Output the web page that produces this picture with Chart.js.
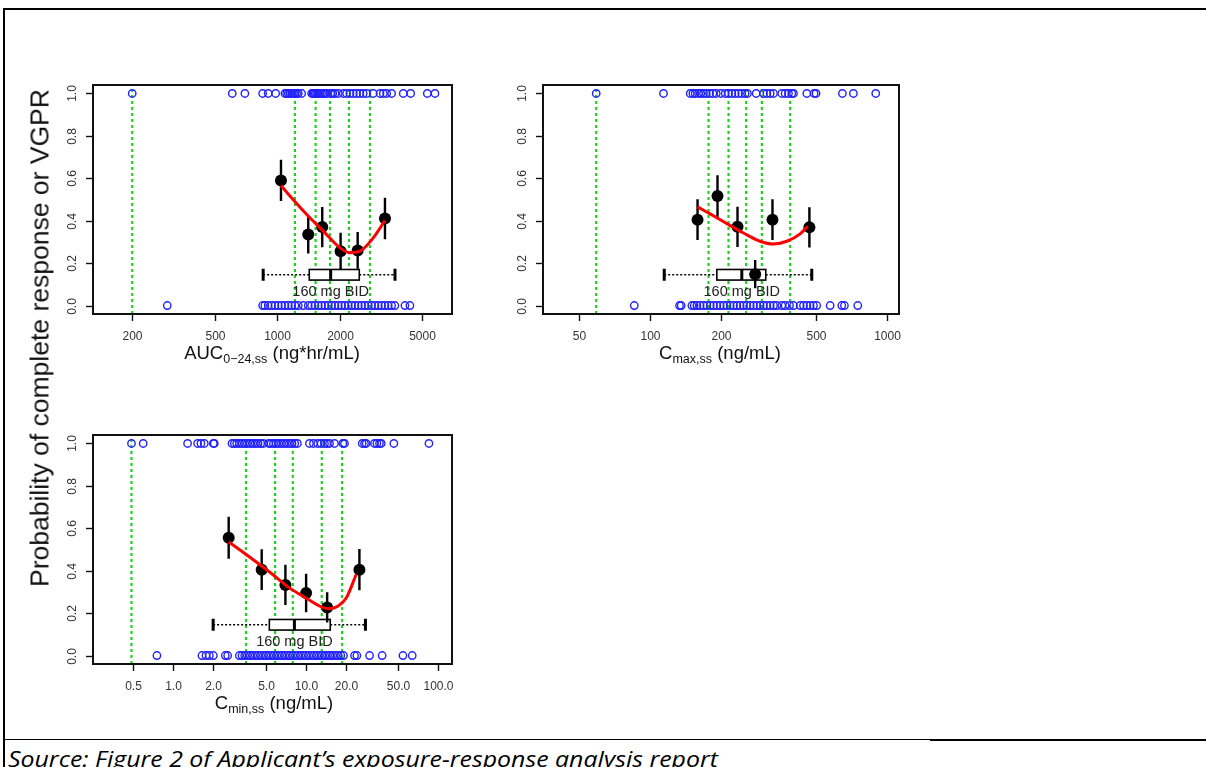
<!DOCTYPE html>
<html><head><meta charset="utf-8">
<script src="https://cdn.jsdelivr.net/npm/chart.js@4.4.1/dist/chart.umd.min.js"></script>
<style>
html,body{margin:0;padding:0;background:#fff;}
body{width:1206px;height:767px;position:relative;overflow:hidden;font-family:"Liberation Sans",Arial,sans-serif;}
canvas{position:absolute;}
.ttl{position:absolute;transform:translate(-50%,-50%);white-space:nowrap;font-size:18.5px;color:#111;}
.ttl sub{font-size:12.5px;vertical-align:-4px;line-height:0;}
#ylab{position:absolute;left:40px;top:338px;transform:translate(-50%,-50%) rotate(-90deg);white-space:nowrap;font-size:26.5px;color:#111;}
#src{position:absolute;left:8px;top:747px;line-height:22px;font-family:"Open Sans",sans-serif;font-style:italic;font-size:22px;color:#000;white-space:nowrap;transform-origin:0 0;}
.ln{position:absolute;background:#000;}
</style></head>
<body>
<div class="ln" style="left:3px;top:8px;width:1203px;height:2px"></div>
<div class="ln" style="left:3px;top:8px;width:2px;height:759px"></div>
<div class="ln" style="left:3px;top:739px;width:928px;height:1px"></div>
<div class="ln" style="left:930px;top:739px;width:276px;height:2px"></div>

<canvas id="c1" width="430" height="300" style="left:45px;top:75px"></canvas>
<canvas id="c2" width="430" height="300" style="left:495px;top:75px"></canvas>
<canvas id="c3" width="430" height="300" style="left:45px;top:425px"></canvas>

<div id="ylab">Probability of complete response or VGPR</div>
<div class="ttl" style="left:272px;top:353px">AUC<sub>0−24,ss</sub> (ng*hr/mL)</div>
<div class="ttl" style="left:720px;top:353px">C<sub>max,ss</sub> (ng/mL)</div>
<div class="ttl" style="left:274px;top:703px">C<sub>min,ss</sub> (ng/mL)</div>
<div id="src">Source: Figure 2 of Applicant’s exposure-response analysis report</div>

<script>
// ---------------- DATA ----------------
const yTicks = [0, 0.2, 0.4, 0.6, 0.8, 1.0];
const yTickLabels = ["0.0", "0.2", "0.4", "0.6", "0.8", "1.0"];
const boxLabel = "160 mg BID";

// Panel 1: AUC0-24,ss
const aucTicks = [200, 500, 1000, 2000, 5000];
const aucTickLabels = ["200", "500", "1000", "2000", "5000"];
const aucCuts = [200, 1216, 1530, 1795, 2214, 2797];
const aucMeanX = [1042, 1410, 1647, 2019, 2440, 3303];
const aucMeanY = [0.59, 0.335, 0.37, 0.256, 0.26, 0.41];
const aucErr = [0.097, 0.09, 0.095, 0.087, 0.087, 0.098];
const aucCurveX = [1042, 1151, 1386, 1666, 2005, 2239, 2500, 2900, 3303];
const aucCurveY = [0.566, 0.516, 0.429, 0.351, 0.272, 0.249, 0.256, 0.319, 0.401];
const aucBox = [855, 1426, 1808, 2484, 3692];
const aucResp1 = [200, 607, 698, 850, 904, 982, 1089, 1110, 1130, 1150, 1173, 1195, 1216, 1240, 1262, 1310, 1465, 1485, 1502, 1525, 1548, 1575, 1606, 1635, 1666, 1700, 1730, 1808, 1850, 1897, 1968, 2080, 2158, 2239, 2323, 2411, 2500, 2595, 2695, 2900, 3126, 3243, 3365, 3556, 4046, 4394, 5284, 5752];
const aucResp0 = [295, 850, 871, 904, 938, 974, 1011, 1049, 1089, 1130, 1172, 1216, 1262, 1334, 1410, 1463, 1518, 1575, 1635, 1697, 1761, 1827, 1896, 1967, 2041, 2118, 2198, 2281, 2367, 2456, 2548, 2644, 2744, 2847, 2954, 3066, 3181, 3301, 3425, 3554, 3688, 4122, 4357];

// Panel 2: Cmax,ss
const cmaxTicks = [50, 100, 200, 500, 1000];
const cmaxTickLabels = ["50", "100", "200", "500", "1000"];
const cmaxCuts = [59.1, 176.4, 214.3, 254.5, 296.5, 390.5];
const cmaxMeanX = [158.5, 192.5, 233.9, 277.8, 328.8, 471];
const cmaxMeanY = [0.405, 0.516, 0.371, 0.148, 0.405, 0.369];
const cmaxErr = [0.096, 0.098, 0.095, 0.067, 0.096, 0.095];
const cmaxCurveX = [158.5, 179.3, 210.9, 247.9, 291.6, 332, 378, 430.4, 463.6];
const cmaxCurveY = [0.465, 0.432, 0.386, 0.342, 0.303, 0.29, 0.303, 0.338, 0.374];
const cmaxBox = [114.6, 191.3, 243.9, 308, 482];
const cmaxResp1 = [59.1, 113.8, 147.6, 151.5, 154.9, 160, 163.7, 168, 172.5, 178.1, 184, 190.1, 198.9, 207.5, 214.3, 221.3, 228.6, 236.2, 243.9, 251.9, 257.7, 280.5, 301.2, 311.2, 321.5, 332.1, 359.9, 371.8, 384.2, 396.8, 403.4, 459.3, 493.2, 502.6, 649.5, 722.9, 898.6];
const cmaxResp0 = [85.6, 133, 135.2, 150, 153.4, 157.5, 162.6, 168, 173.5, 179.3, 185.2, 191.3, 197.6, 204.2, 210.9, 217.8, 225, 232.4, 240, 247.9, 256, 264.6, 273.3, 282.3, 291.6, 301.2, 311.2, 321.5, 332.1, 343, 359.9, 371.8, 388, 403.4, 430.4, 444.6, 459.3, 474.4, 490, 505.8, 576.4, 645.5, 662.3, 754.3];

// Panel 3: Cmin,ss
const cminTicks = [0.5, 1, 2, 5, 10, 20, 50, 100];
const cminTickLabels = ["0.5", "1.0", "2.0", "5.0", "10.0", "20.0", "50.0", "100.0"];
const cminCuts = [0.484, 3.54, 5.87, 7.98, 13.2, 18.8];
const cminMeanX = [2.62, 4.65, 7.02, 10.06, 14.5, 25.4];
const cminMeanY = [0.555, 0.405, 0.333, 0.295, 0.227, 0.405];
const cminErr = [0.099, 0.096, 0.095, 0.091, 0.071, 0.097];
const cminCurveX = [2.62, 3.15, 4.21, 5.63, 7.53, 10.06, 13.43, 15.1, 17.45, 20.2, 24.0];
const cminCurveY = [0.535, 0.50, 0.442, 0.382, 0.319, 0.271, 0.227, 0.221, 0.232, 0.271, 0.382];
const cminBox = [2.0, 5.31, 8.21, 15.3, 28.2];
const cminResp1 = [0.484, 0.593, 1.283, 1.527, 1.618, 1.715, 2.006, 2.04, 2.775, 2.89, 3.01, 3.153, 3.304, 3.46, 3.624, 3.80, 3.977, 4.165, 4.363, 4.57, 4.787, 5.253, 5.47, 5.70, 5.97, 6.25, 6.55, 6.86, 7.18, 7.53, 7.88, 8.26, 8.65, 10.66, 11.43, 12.32, 13.05, 13.84, 14.42, 15.1, 16.47, 19.04, 19.6, 26.66, 27.75, 28.57, 33.0, 34.4, 36.0, 37.1, 46.2, 85.0];
const cminResp0 = [0.753, 1.647, 1.766, 1.871, 2.006, 2.47, 2.574, 3.153, 3.304, 3.46, 3.624, 3.80, 3.977, 4.165, 4.363, 4.57, 4.787, 5.015, 5.253, 5.50, 5.765, 6.04, 6.32, 6.62, 6.94, 7.27, 7.61, 7.98, 8.35, 8.75, 9.17, 9.60, 10.06, 10.54, 11.04, 11.56, 12.11, 12.68, 13.29, 13.92, 14.58, 15.27, 16.0, 16.76, 17.55, 18.39, 19.26, 23.33, 24.3, 30.3, 37.7, 54.1, 63.6];

const boxY = 0.145;

// ---------------- DRAWING ----------------
const FONT = '"Liberation Sans", Arial, sans-serif';

function drawBox(chart, o) {
  const xs = chart.scales.x, ys = chart.scales.y, ctx = chart.ctx;
  const px = v => xs.getPixelForValue(v);
  const [mn, q1, md, q3, mx] = o.box;
  const yc = ys.getPixelForValue(o.boxY);
  const h = 5.3;
  ctx.save();
  ctx.strokeStyle = '#000';
  ctx.lineWidth = 1.6;
  ctx.setLineDash([2, 2]);
  ctx.beginPath();
  ctx.moveTo(px(mn), yc); ctx.lineTo(px(q1), yc);
  ctx.moveTo(px(q3), yc); ctx.lineTo(px(mx), yc);
  ctx.stroke();
  ctx.setLineDash([]);
  ctx.fillStyle = '#fff';
  ctx.fillRect(px(q1), yc - h, px(q3) - px(q1), 2 * h);
  ctx.lineWidth = 1.6;
  ctx.strokeRect(px(q1), yc - h, px(q3) - px(q1), 2 * h);
  ctx.lineWidth = 3;
  ctx.beginPath();
  ctx.moveTo(px(md), yc - h); ctx.lineTo(px(md), yc + h);
  ctx.moveTo(px(mn), yc - 6); ctx.lineTo(px(mn), yc + 6);
  ctx.moveTo(px(mx), yc - 6); ctx.lineTo(px(mx), yc + 6);
  ctx.stroke();
  ctx.font = '14.5px ' + FONT;
  ctx.fillStyle = '#222';
  ctx.textAlign = 'center';
  ctx.textBaseline = 'middle';
  ctx.fillText(o.label, px(md), yc + 17);
  ctx.restore();
}

const rPlot = {
  id: 'rPlot',
  afterDatasetDraw(chart, args, o) {
    if (args.index === 2) drawBox(chart, o);
  },
  afterDraw(chart, args, o) {
    const ctx = chart.ctx, xs = chart.scales.x, ys = chart.scales.y;
    const { left, right, top, bottom } = chart.chartArea;
    ctx.save();
    ctx.strokeStyle = '#111';
    ctx.lineWidth = 2;
    ctx.strokeRect(left, top, right - left, bottom - top);
    ctx.lineWidth = 1.4;
    ctx.fillStyle = '#333';
    ctx.font = '12px ' + FONT;
    ctx.textAlign = 'center';
    ctx.textBaseline = 'middle';
    o.xTicks.forEach((v, i) => {
      const p = Math.round(xs.getPixelForValue(v)) + 0.5;
      ctx.beginPath(); ctx.moveTo(p, bottom); ctx.lineTo(p, bottom + 7); ctx.stroke();
      ctx.fillText(o.xLabels[i], p, bottom + 23);
    });
    o.yTicks.forEach((v, i) => {
      const p = Math.round(ys.getPixelForValue(v)) + 0.5;
      ctx.beginPath(); ctx.moveTo(left - 7, p); ctx.lineTo(left, p); ctx.stroke();
      ctx.save();
      ctx.translate(left - 20, p);
      ctx.rotate(-Math.PI / 2);
      ctx.fillText(o.yLabels[i], 0, 0);
      ctx.restore();
    });
    ctx.restore();
  }
};

function vlines(xs) {
  const d = [];
  xs.forEach(v => { d.push({ x: v, y: -0.04 }, { x: v, y: 1.04 }, { x: v, y: null }); });
  return d;
}
function errbars(xs, ys, es) {
  const d = [];
  xs.forEach((v, i) => { d.push({ x: v, y: ys[i] - es[i] }, { x: v, y: ys[i] + es[i] }, { x: v, y: null }); });
  return d;
}
function pts(xs, ys) { return xs.map((v, i) => ({ x: v, y: Array.isArray(ys) ? ys[i] : ys })); }

function panel(id, p) {
  new Chart(document.getElementById(id), {
    type: 'scatter',
    data: {
      datasets: [
        { type: 'line', data: vlines(p.cuts), borderColor: '#1fd21f', borderWidth: 2.2, borderDash: [3, 3], pointRadius: 0, spanGaps: false, order: 10 },
        { type: 'scatter', data: pts(p.resp1, 1), pointRadius: 3.7, backgroundColor: 'rgba(0,0,0,0)', borderColor: '#2222ff', borderWidth: 1.4, order: 9 },
        { type: 'scatter', data: pts(p.resp0, 0), pointRadius: 3.7, backgroundColor: 'rgba(0,0,0,0)', borderColor: '#2222ff', borderWidth: 1.4, order: 8 },
        { type: 'line', data: errbars(p.mx, p.my, p.err), borderColor: '#000', borderWidth: 2.4, pointRadius: 0, spanGaps: false, order: 4 },
        { type: 'scatter', data: pts(p.mx, p.my), pointRadius: 6, backgroundColor: '#000', borderWidth: 0, order: 3 },
        { type: 'line', data: pts(p.cx, p.cy), borderColor: '#ff0000', borderWidth: 3, pointRadius: 0, cubicInterpolationMode: 'monotone', order: 2 }
      ]
    },
    options: {
      responsive: false, animation: false, events: [],
      layout: { padding: p.pad, autoPadding: false },
      scales: {
        x: { type: 'logarithmic', min: p.xmin, max: p.xmax, display: false },
        y: { type: 'linear', min: -0.04, max: 1.04, display: false }
      },
      plugins: {
        legend: { display: false }, tooltip: { enabled: false },
        rPlot: { box: p.box, boxY: boxY, label: boxLabel, xTicks: p.ticks, xLabels: p.tickLabels, yTicks: yTicks, yLabels: yTickLabels }
      }
    },
    plugins: [rPlot]
  });
}

panel('c1', { cuts: aucCuts, resp1: aucResp1, resp0: aucResp0, mx: aucMeanX, my: aucMeanY, err: aucErr, cx: aucCurveX, cy: aucCurveY, box: aucBox, ticks: aucTicks, tickLabels: aucTickLabels, xmin: 129.4, xmax: 6950, pad: { left: 48, right: 23, top: 10, bottom: 61 } });
panel('c2', { cuts: cmaxCuts, resp1: cmaxResp1, resp0: cmaxResp0, mx: cmaxMeanX, my: cmaxMeanY, err: cmaxErr, cx: cmaxCurveX, cy: cmaxCurveY, box: cmaxBox, ticks: cmaxTicks, tickLabels: cmaxTickLabels, xmin: 35.2, xmax: 1127, pad: { left: 48, right: 26, top: 10, bottom: 61 } });
panel('c3', { cuts: cminCuts, resp1: cminResp1, resp0: cminResp0, mx: cminMeanX, my: cminMeanY, err: cminErr, cx: cminCurveX, cy: cminCurveY, box: cminBox, ticks: cminTicks, tickLabels: cminTickLabels, xmin: 0.248, xmax: 126.9, pad: { left: 48, right: 23, top: 10, bottom: 61 } });

// fit caption width to the reference line length
const src = document.getElementById('src');
const w = src.getBoundingClientRect().width;
src.style.transform = 'scaleX(' + (710 / w) + ')';
</script>
</body></html>
